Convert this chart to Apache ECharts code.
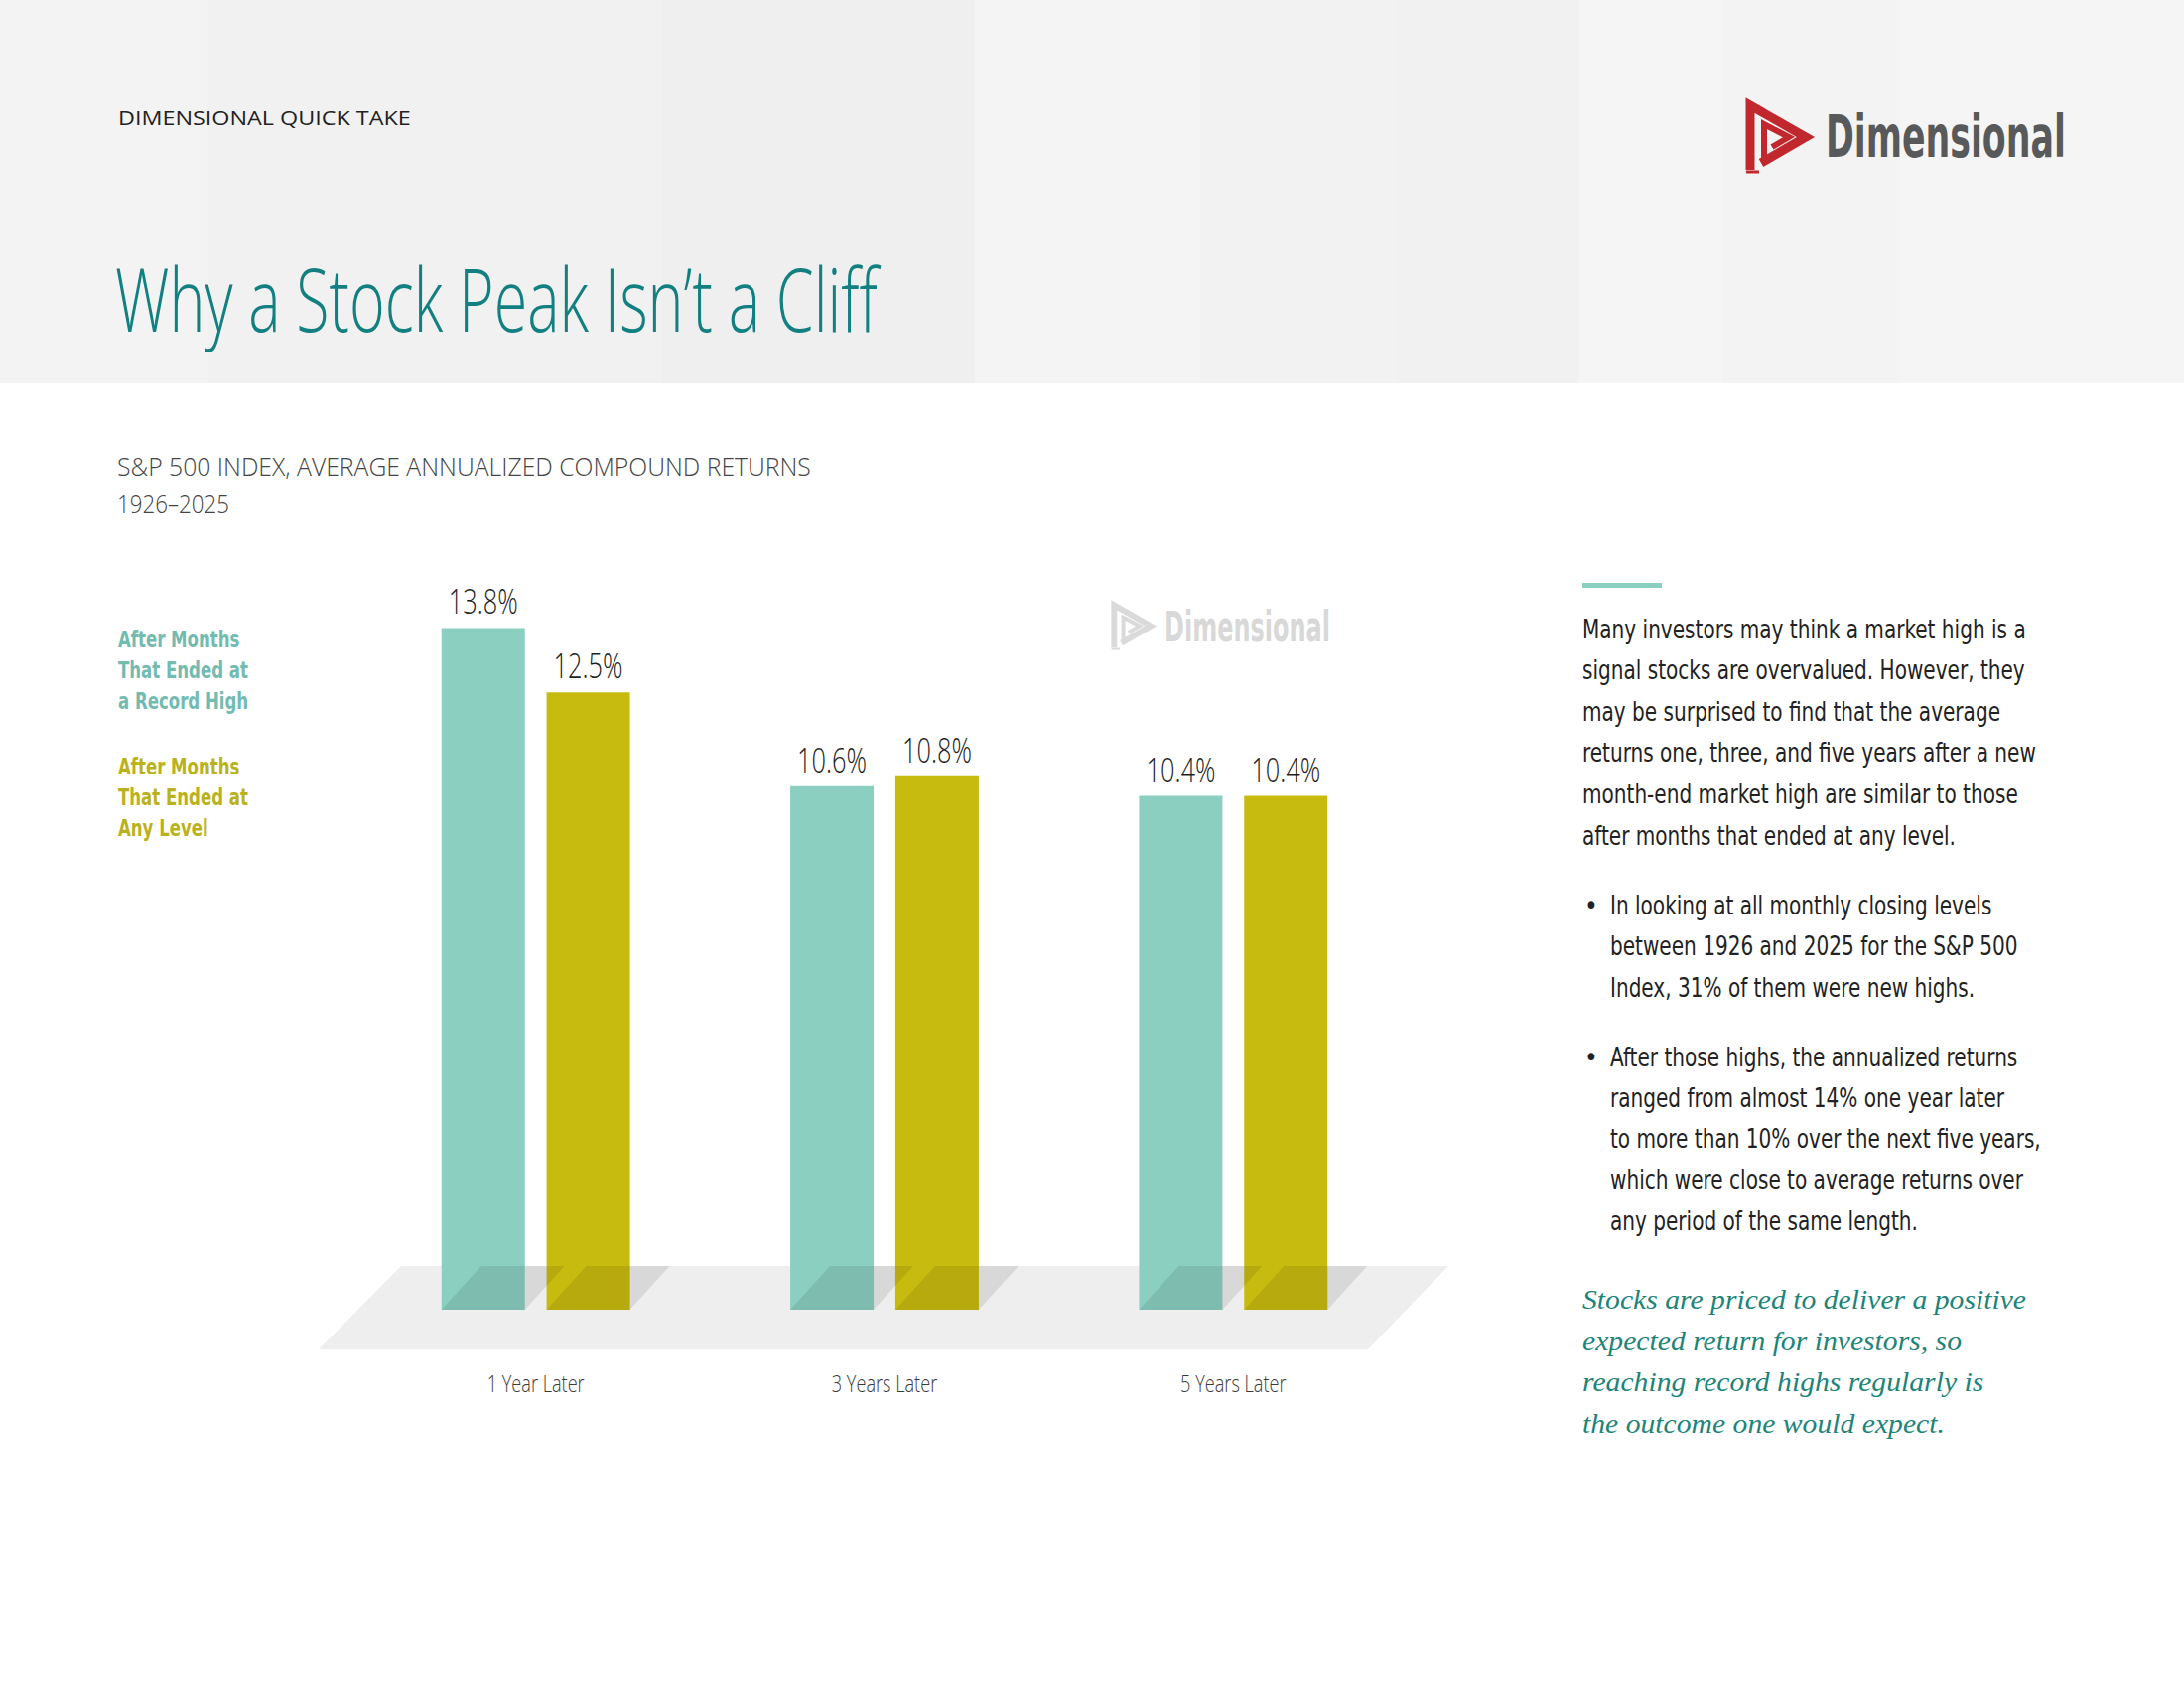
<!DOCTYPE html>
<html>
<head>
<meta charset="utf-8">
<title>Why a Stock Peak Isn't a Cliff</title>
<script src="https://cdn.jsdelivr.net/npm/echarts@6/dist/echarts.min.js"></script>
<style>
  html, body { margin: 0; padding: 0; background: #fff; }
  #chart { width: 2200px; height: 1700px; }
</style>
</head>
<body>
<div id="chart"></div>
<script>
// 数据
const categories = ['1 Year Later', '3 Years Later', '5 Years Later'];
const recordHigh = [13.8, 10.6, 10.4];
const anyLevel = [12.5, 10.8, 10.4];
const seriesNames = ['After Months That Ended at a Record High', 'After Months That Ended at Any Level'];
const legendRecord = ['After Months', 'That Ended at', 'a Record High'];
const legendAny = ['After Months', 'That Ended at', 'Any Level'];
const introLines = [
  'Many investors may think a market high is a',
  'signal stocks are overvalued. However, they',
  'may be surprised to find that the average',
  'returns one, three, and five years after a new',
  'month-end market high are similar to those',
  'after months that ended at any level.'
];
const bulletOne = [
  'In looking at all monthly closing levels',
  'between 1926 and 2025 for the S&P 500',
  'Index, 31% of them were new highs.'
];
const bulletTwo = [
  'After those highs, the annualized returns',
  'ranged from almost 14% one year later',
  'to more than 10% over the next five years,',
  'which were close to average returns over',
  'any period of the same length.'
];
const closingLines = [
  'Stocks are priced to deliver a positive',
  'expected return for investors, so',
  'reaching record highs regularly is',
  'the outcome one would expect.'
];

const TEAL = '#8acfc0';
const OLIVE = '#c8bb10';
const BAR_W = 84;
const BAR_GAP = 0.26;
const BAR_OFF = (BAR_W + BAR_W * BAR_GAP) / 2;

// 字体测量
const ctx = document.createElement('canvas').getContext('2d');
function textWidth(str, font) {
  ctx.font = font;
  return ctx.measureText(str).width;
}
function hasFont(name) {
  const s = 'abcdefghijklmnopqrstuvwxyz0123456789';
  return textWidth(s, '40px "' + name + '", monospace') !== textWidth(s, '40px monospace');
}
const NARROW = hasFont('Liberation Sans Narrow') ? '"Liberation Sans Narrow"'
  : (hasFont('DejaVu Sans Condensed') ? '"DejaVu Sans Condensed"' : '"Liberation Sans"');
const LIGHT = '"Open Sans", "Noto Sans", sans-serif';
const SERIF = '"Liberation Serif", "DejaVu Serif", serif';

function fit(str, font, target) {
  return target / textWidth(str, font);
}

/**
 * 生成文字元素
 */
function textEl(str, x, y, font, fill, scaleX, align) {
  align = align || 'left';
  return {
    type: 'text', x: x, y: y, scaleX: scaleX || 1, silent: true,
    style: {
      text: str, font: font, fill: fill,
      textAlign: align, textVerticalAlign: 'middle', align: align, verticalAlign: 'middle'
    }
  };
}
function lines(arr, x, y0, step, font, fill, scaleX) {
  return arr.map((s, i) => textEl(s, x, y0 + i * step, font, fill, scaleX));
}

// 标志
function logoIcon(x, y, s, color) {
  return {
    type: 'group', x: x, y: y, scaleX: s, scaleY: s, silent: true,
    children: [
      { type: 'polyline', shape: { points: [[5, 70], [5, 5], [61, 37], [16, 63]] },
        style: { stroke: color, lineWidth: 9, fill: null, lineJoin: 'miter' } },
      { type: 'polyline', shape: { points: [[19, 60], [19, 24], [44, 37], [27, 47]] },
        style: { stroke: color, lineWidth: 6, fill: null, lineJoin: 'miter' } },
      { type: 'line', shape: { x1: 1, y1: 72, x2: 14, y2: 72 }, style: { stroke: color, lineWidth: 3 } }
    ]
  };
}

const headerStrips = [
  [0, 210, '#f3f3f3'], [210, 666, '#f1f1f1'], [666, 982, '#efefef'], [982, 1209, '#f4f4f4'],
  [1209, 1405, '#f2f2f2'], [1405, 1591, '#f1f1f1'], [1591, 1735, '#f5f5f5'], [1735, 1914, '#f3f3f3'],
  [1914, 2200, '#f5f5f5']
];

const fTop = '20px ' + LIGHT;
const fTitle = '300 88px ' + LIGHT;
const fSub = '300 25px ' + LIGHT;
const fLegend = 'bold 23px ' + NARROW;
const fBody = '26px ' + NARROW;
const fSerif = 'italic 27px ' + SERIF;
const fLogo = 'bold 58px ' + NARROW;
const fMark = 'bold 42px ' + NARROW;
const fValue = '300 34px ' + LIGHT;
const fCat = '300 24px ' + LIGHT;

const sLegend = fit('That Ended at', fLegend, 131);
const sBody = fit(introLines[0], fBody, 447);
const sSerif = fit(closingLines[0], fSerif, 447);
const sValue = fit('13.8%', fValue, 70);
const sCat = fit('1 Year Later', fCat, 98);

let graphics = headerStrips.map(s => ({
  type: 'rect', silent: true, z: -10,
  shape: { x: s[0], y: 0, width: s[1] - s[0], height: 386 }, style: { fill: s[2] }
}));
graphics = graphics.concat([
  textEl('DIMENSIONAL QUICK TAKE', 119, 118, fTop, '#222', fit('DIMENSIONAL QUICK TAKE', fTop, 295)),
  textEl('Why a Stock Peak Isn\u2019t a Cliff', 116, 300, fTitle, '#127f80',
    fit('Why a Stock Peak Isn\u2019t a Cliff', fTitle, 768)),
  textEl('S&P 500 INDEX, AVERAGE ANNUALIZED COMPOUND RETURNS', 118, 469, fSub, '#444',
    fit('S&P 500 INDEX, AVERAGE ANNUALIZED COMPOUND RETURNS', fSub, 699)),
  textEl('1926\u20132025', 118, 508, fSub, '#444', fit('1926\u20132025', fSub, 113)),
  logoIcon(1758, 101, 1.0, '#c1282d'),
  textEl('Dimensional', 1839, 138, fLogo, '#58595b', fit('Dimensional', fLogo, 242)),
  logoIcon(1119, 606, 0.66, '#dadada'),
  textEl('Dimensional', 1173, 631, fMark, '#d8d8d8', fit('Dimensional', fMark, 167)),
  { type: 'rect', silent: true, shape: { x: 1594, y: 587, width: 80, height: 5 }, style: { fill: TEAL } },
  textEl('\u2022', 1596, 912, fBody, '#222'),
  textEl('\u2022', 1596, 1065, fBody, '#222')
]);
graphics = graphics
  .concat(lines(legendRecord, 119, 644, 31, fLegend, '#72bbb1', sLegend))
  .concat(lines(legendAny, 119, 772, 31, fLegend, '#bab21c', sLegend))
  .concat(lines(introLines, 1594, 634, 41.6, fBody, '#222', sBody))
  .concat(lines(bulletOne, 1622, 912, 41.6, fBody, '#222', sBody))
  .concat(lines(bulletTwo, 1622, 1065, 41.3, fBody, '#222', sBody))
  .concat(lines(closingLines, 1594, 1309, 41.7, fSerif, '#1c8479', sSerif));

// 数值标签数据: [类目, 数值, 系列]
const labelData = recordHigh.map((v, i) => [i, v, 0]).concat(anyLevel.map((v, i) => [i, v, 1]));

let chart = echarts.init(document.getElementById('chart'), null, { renderer: 'svg' });
let option = {
  backgroundColor: '#fff',
  animation: false,
  graphic: { elements: graphics },
  grid: { left: 364, right: 782, top: 523, bottom: 381 },
  xAxis: {
    type: 'category', data: categories,
    axisLine: { show: false }, axisTick: { show: false }, axisLabel: { show: false }
  },
  yAxis: { type: 'value', min: 0, max: 16, show: false, splitLine: { show: false } },
  series: [
    {
      name: 'floor', type: 'custom', silent: true, z: 1, clip: false,
      data: [[0, 0]],
      renderItem: function (params, api) {
        const c = params.coordSys, b = c.y + c.height;
        return {
          type: 'polygon',
          shape: { points: [[c.x + 40, b - 44], [c.x + c.width + 41, b - 44], [c.x + c.width - 40, b + 40], [c.x - 43, b + 40]] },
          style: { fill: '#eeeeee' }
        };
      }
    },
    {
      name: seriesNames[0], type: 'bar', data: recordHigh, barWidth: BAR_W, barGap: (BAR_GAP * 100) + '%',
      itemStyle: { color: TEAL }, z: 2
    },
    {
      name: seriesNames[1], type: 'bar', data: anyLevel, barWidth: BAR_W,
      itemStyle: { color: OLIVE }, z: 2
    },
    {
      name: 'shadow', type: 'custom', silent: true, z: 3, clip: false,
      data: categories.map((c, i) => [i, 0]),
      renderItem: function (params, api) {
        const p = api.coord([api.value(0), 0]);
        const b = p[1];
        return {
          type: 'group',
          children: [p[0] - BAR_OFF, p[0] + BAR_OFF].map(cx => {
            const l = cx - BAR_W / 2, r = cx + BAR_W / 2;
            return {
              type: 'polygon',
              shape: { points: [[l, b], [r, b], [r + 40, b - 44], [l + 40, b - 44]] },
              style: { fill: 'rgba(0,0,0,0.09)' }
            };
          })
        };
      }
    },
    {
      name: 'values', type: 'custom', silent: true, z: 4, clip: false,
      data: labelData,
      renderItem: function (params, api) {
        const p = api.coord([api.value(0), api.value(1)]);
        const cx = p[0] + (api.value(2) ? BAR_OFF : -BAR_OFF);
        return textEl(api.value(1).toFixed(1) + '%', cx, p[1] - 27, fValue, '#1e1e1e', sValue, 'center');
      }
    },
    {
      name: 'categories', type: 'custom', silent: true, z: 4, clip: false,
      data: categories.map((c, i) => [i, 0]),
      renderItem: function (params, api) {
        const p = api.coord([api.value(0), 0]);
        return textEl(categories[api.value(0)], p[0], p[1] + 73, fCat, '#3a3a3a', sCat, 'center');
      }
    }
  ]
};
chart.setOption(option);
</script>
</body>
</html>
